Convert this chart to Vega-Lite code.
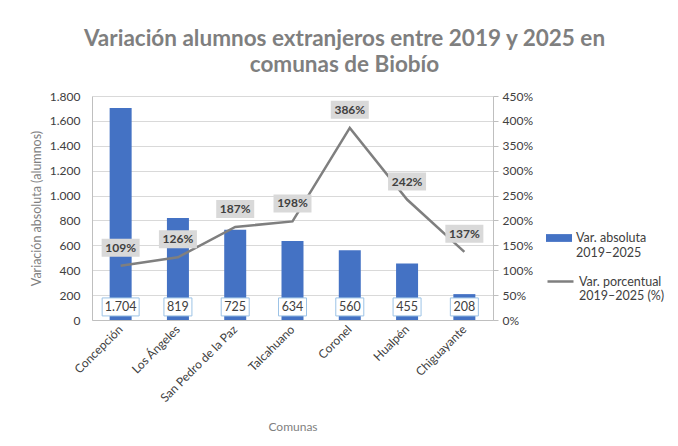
{
  "$schema": "https://vega.github.io/schema/vega-lite/v6.json",
  "width": 401,
  "height": 224,
  "autosize": {"type": "none"},
  "padding": {"left": 92, "top": 96, "right": 185, "bottom": 126},
  "background": "white",
  "config": {
    "locale": {"number": {"decimal": ",", "thousands": ".", "grouping": [3], "currency": ["$", ""]}},
    "font": "Lato",
    "view": {"stroke": null},
    "axis": {"labelFont": "Lato", "titleFont": "Lato", "labelColor": "#404040", "titleColor": "#7f7f7f", "titleFontWeight": "normal", "domainColor": "#bfbfbf", "tickColor": "#bfbfbf", "gridColor": "#d9d9d9"},
    "legend": {"labelFont": "Lato"}
  },
  "title": {
    "text": ["Variación alumnos extranjeros entre 2019 y 2025 en", "comunas de Biobío"],
    "font": "Lato",
    "fontSize": 22.5,
    "fontWeight": "bold",
    "color": "#7f7f7f",
    "anchor": "middle",
    "frame": "group",
    "dx": 52,
    "offset": 14,
    "lineHeight": 26
  },
  "data": {
    "values": [
      {"comuna": "Concepción", "abs": 1704, "pct": 1.09},
      {"comuna": "Los Ángeles", "abs": 819, "pct": 1.26},
      {"comuna": "San Pedro de la Paz", "abs": 725, "pct": 1.87},
      {"comuna": "Talcahuano", "abs": 634, "pct": 1.98},
      {"comuna": "Coronel", "abs": 560, "pct": 3.86},
      {"comuna": "Hualpén", "abs": 455, "pct": 2.42},
      {"comuna": "Chiguayante", "abs": 208, "pct": 1.37}
    ]
  },
  "encoding": {
    "x": {
      "field": "comuna",
      "type": "nominal",
      "sort": null,
      "scale": {"paddingInner": 0.616, "paddingOuter": 0.308},
      "axis": {
        "title": "Comunas",
        "titleFontSize": 12,
        "titlePadding": 18,
        "labelAngle": -45,
        "labelAlign": "right",
        "labelBaseline": "middle",
        "labelFontSize": 12,
        "labelPadding": 7,
        "ticks": false,
        "domain": true
      }
    }
  },
  "layer": [
    {
      "encoding": {
        "y": {
          "field": "abs",
          "type": "quantitative",
          "scale": {"domain": [0, 1800], "nice": false},
          "axis": {
            "title": "Variación absoluta (alumnos)",
            "titleFontSize": 12.5,
            "titlePadding": 6,
            "values": [0, 200, 400, 600, 800, 1000, 1200, 1400, 1600, 1800],
            "format": ",d",
            "labelFontSize": 12,
            "labelPadding": 12,
            "ticks": false,
            "grid": true,
            "domain": true
          }
        }
      },
      "layer": [
        {
          "mark": {"type": "bar"},
          "encoding": {
            "fill": {
              "datum": "Var. absoluta 2019–2025",
              "type": "nominal",
              "scale": {"range": ["#4472C4"]},
              "legend": {
                "title": null,
                "orient": "none",
                "legendX": 454,
                "legendY": 129,
                "symbolType": "M-1,-0.3L1,-0.3L1,0.3L-1,0.3Z",
                "symbolSize": 676,
                "symbolStrokeWidth": 0,
                "labelFontSize": 12.5,
                "labelColor": "#404040",
                "labelBaseline": "middle",
                "labelLineHeight": 18,
                "labelLimit": 200,
                "labelExpr": "['Var. absoluta', '2019–2025']"
              }
            }
          }
        },
        {
          "mark": {"type": "point", "filled": true, "opacity": 1, "fill": "white", "stroke": "#9dc3e6", "strokeWidth": 1, "size": 100},
          "encoding": {
            "y": {"datum": 105, "type": "quantitative"},
            "shape": {
              "condition": {"test": "datum.abs >= 1000", "value": "M-3.7,-1.8L3.7,-1.8L3.7,1.8L-3.7,1.8Z"},
              "value": "M-2.8,-1.8L2.8,-1.8L2.8,1.8L-2.8,1.8Z"
            }
          }
        },
        {
          "mark": {"type": "text", "fontSize": 12.5, "color": "#404040", "baseline": "middle"},
          "encoding": {
            "y": {"datum": 105, "type": "quantitative"},
            "text": {"field": "abs", "type": "quantitative", "format": ",d"}
          }
        }
      ]
    },
    {
      "encoding": {
        "y": {
          "field": "pct",
          "type": "quantitative",
          "scale": {"domain": [0, 4.5], "nice": false},
          "axis": {
            "orient": "right",
            "title": null,
            "values": [0, 0.5, 1, 1.5, 2, 2.5, 3, 3.5, 4, 4.5],
            "format": ".0%",
            "labelFontSize": 12,
            "labelPadding": 4,
            "ticks": true,
            "tickSize": 5,
            "grid": false,
            "domain": true
          }
        }
      },
      "layer": [
        {
          "mark": {"type": "line", "strokeWidth": 2.5},
          "encoding": {
            "stroke": {
              "datum": "Var. porcentual 2019–2025 (%)",
              "type": "nominal",
              "scale": {"range": ["#7f7f7f"]},
              "legend": {
                "title": null,
                "orient": "none",
                "legendX": 454,
                "legendY": 171,
                "symbolType": "stroke",
                "symbolSize": 676,
                "symbolStrokeWidth": 2.5,
                "labelFontSize": 12.5,
                "labelColor": "#404040",
                "labelBaseline": "middle",
                "labelLineHeight": 18,
                "labelLimit": 200,
                "labelExpr": "['Var. porcentual', '2019–2025 (%)']"
              }
            }
          }
        },
        {
          "mark": {"type": "point", "filled": true, "opacity": 1, "fill": "#d9d9d9", "strokeWidth": 0, "size": 100, "yOffset": -18, "shape": "M-3.8,-1.8L3.8,-1.8L3.8,1.8L-3.8,1.8Z"},
          "encoding": {}
        },
        {
          "mark": {"type": "text", "fontSize": 12, "fontWeight": "bold", "color": "#404040", "baseline": "middle", "yOffset": -18},
          "encoding": {
            "text": {"field": "pct", "type": "quantitative", "format": ".0%"}
          }
        }
      ]
    }
  ],
  "resolve": {"scale": {"y": "independent"}}
}
